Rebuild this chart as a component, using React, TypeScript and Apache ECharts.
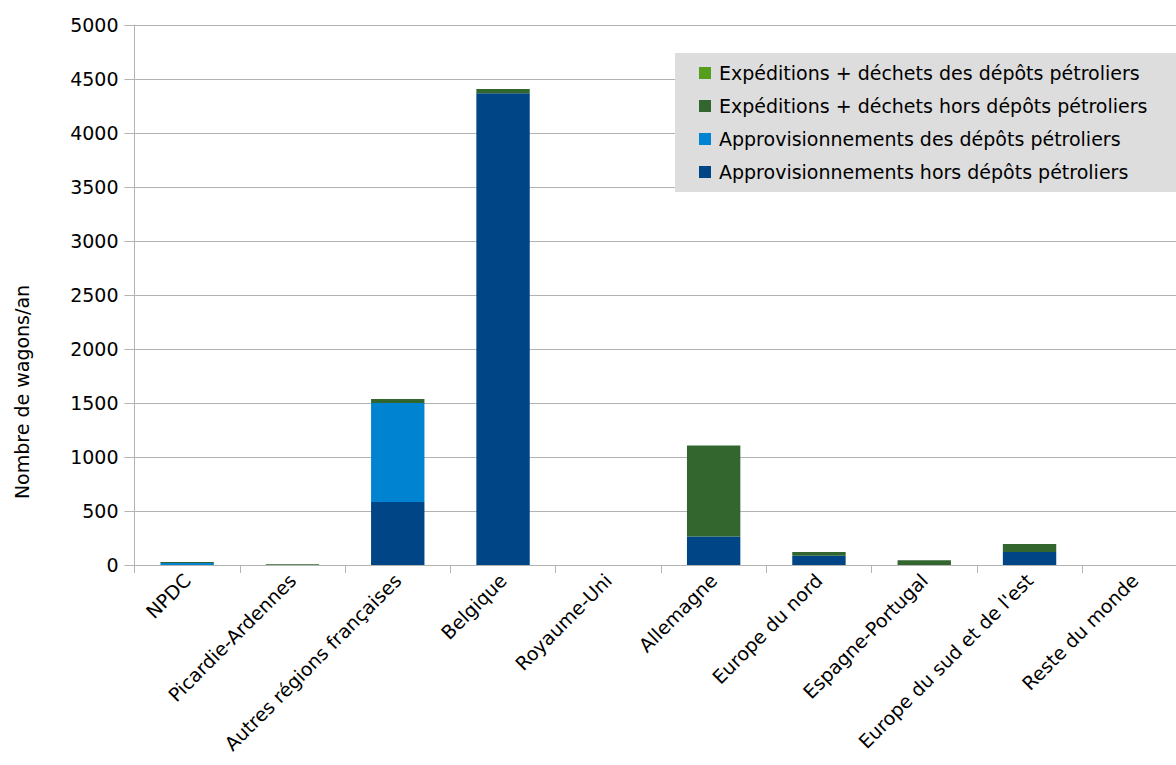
import React, { useEffect, useRef } from "react";
import * as echarts from "echarts";

const categories = [
  "NPDC",
  "Picardie-Ardennes",
  "Autres régions françaises",
  "Belgique",
  "Royaume-Uni",
  "Allemagne",
  "Europe du nord",
  "Espagne-Portugal",
  "Europe du sud et de l'est",
  "Reste du monde",
];

const seriesNames = [
  "Approvisionnements hors dépôts pétroliers",
  "Approvisionnements des dépôts pétroliers",
  "Expéditions + déchets hors dépôts pétroliers",
  "Expéditions + déchets des dépôts pétroliers",
];

const approHors = [0, 0, 583, 4368, 0, 265, 85, 0, 120, 0];
const approDepots = [18, 0, 917, 0, 0, 0, 0, 0, 0, 0];
const expHors = [10, 8, 37, 40, 0, 842, 35, 45, 74, 0];
const expDepots = [0, 0, 0, 0, 0, 0, 0, 0, 0, 0];

const colors = ["#004586", "#0084d1", "#33662f", "#579d1c"];

const yTicks = { min: 0, max: 5000, interval: 500 };

const FONT = "DejaVu Sans";

export default function App() {
  const ref = useRef<HTMLDivElement>(null);
  useEffect(() => {
    if (!ref.current) return;
    const chart = echarts.init(ref.current, undefined, { renderer: "svg" });
    const values = [approHors, approDepots, expHors, expDepots];
    chart.setOption({
      animation: false,
      backgroundColor: "#ffffff",
      textStyle: { fontFamily: FONT },
      grid: {
        left: 134.5,
        top: 25,
        width: 1053,
        bottom: 200,
        containLabel: false,
        outerBoundsMode: "none",
      },
      graphic: [
        {
          type: "rect",
          left: 675,
          top: 53,
          shape: { width: 501, height: 139 },
          style: { fill: "#dddddd" },
          z: 5,
        },
        {
          type: "text",
          x: 22,
          y: 392,
          rotation: Math.PI / 2,
          style: {
            text: "Nombre de wagons/an",
            fontFamily: FONT,
            fontSize: 19,
            fill: "#000000",
            align: "center",
            verticalAlign: "middle",
          },
        },
      ],
      legend: {
        orient: "vertical",
        left: 699,
        top: 63,
        padding: 0,
        itemWidth: 12,
        itemHeight: 12,
        itemGap: 13,
        icon: "rect",
        z: 10,
        textStyle: {
          fontFamily: FONT,
          fontSize: 19,
          lineHeight: 20,
          color: "#000000",
          padding: [0, 0, 0, 3],
        },
        data: [...seriesNames].reverse(),
      },
      xAxis: {
        type: "category",
        data: categories,
        axisLine: { lineStyle: { color: "#b3b3b3", width: 1 } },
        axisTick: { show: true, length: 8, lineStyle: { color: "#b3b3b3" } },
        axisLabel: {
          rotate: 45,
          interval: 0,
          fontFamily: FONT,
          fontSize: 19,
          color: "#000000",
          margin: 12,
        },
      },
      yAxis: {
        type: "value",
        min: yTicks.min,
        max: yTicks.max,
        interval: yTicks.interval,
        axisLine: { show: true, lineStyle: { color: "#b3b3b3" } },
        axisTick: { show: true, length: 10, lineStyle: { color: "#b3b3b3" } },
        splitLine: { lineStyle: { color: "#b3b3b3" } },
        axisLabel: {
          fontFamily: FONT,
          fontSize: 19,
          color: "#000000",
          margin: 16,
          formatter: (v: number) => String(v),
        },
      },
      series: seriesNames.map((name, i) => ({
        name,
        type: "bar",
        stack: "total",
        barWidth: "50.7%",
        itemStyle: { color: colors[i] },
        data: values[i],
      })),
    });
    return () => chart.dispose();
  }, []);
  return (
    <div
      ref={ref}
      style={{ position: "fixed", left: 0, top: 0, width: 1176, height: 765 }}
    />
  );
}
